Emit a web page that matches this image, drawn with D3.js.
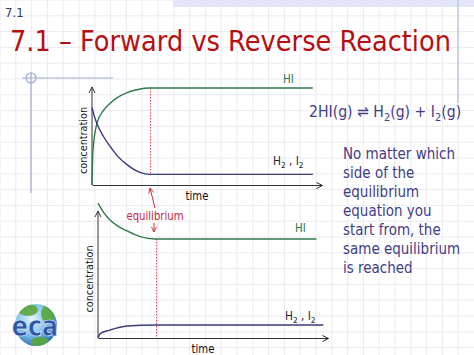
<!DOCTYPE html>
<html><head><meta charset="utf-8">
<script src="https://cdn.jsdelivr.net/npm/d3@7"></script>
<style>html,body{margin:0;padding:0;background:#fff;}svg{display:block;}</style>
</head><body>
<svg id="c" width="474" height="355"></svg>
<script>
// ---------- data ----------
const eqTime = 2.5;                       // time at which equilibrium is reached
// Forward reaction (start with H2, I2)
const topHITime = [0, 0.04, 0.22, 0.5, 0.78, 1.1, 1.5, 2.0, 2.5, 9.6];
const topHIConc = [0, 3.5, 6.4, 7.7, 8.4, 9.0, 9.5, 9.85, 10, 10];
const topH2Time = [0, 0.1, 0.22, 0.5, 0.78, 1.1, 1.52, 2.09, 2.5, 9.6];
const topH2Conc = [8.0, 7.1, 6.3, 5.0, 4.0, 3.0, 2.1, 1.3, 1.1, 1.1];
// Reverse reaction (start with HI)
const botHITime = [0, 0.25, 0.52, 0.85, 1.26, 1.83, 2.5, 9.5];
const botHIConc = [10.7, 9.95, 9.37, 8.9, 8.5, 8.05, 7.86, 7.86];
const botH2Time = [0, 0.1, 0.52, 1.26, 2.5, 9.8];
const botH2Conc = [0, 0.35, 0.63, 0.95, 1.03, 1.03];
const bodyLines = ["No matter which", "side of the", "equilibrium", "equation you",
                   "start from, the", "same equilibrium", "is reached"];

// ---------- styles ----------
const FONT = "DejaVu Sans";
const GREEN = "#2f7a4c", NAVY = "#3b3b7a", RED = "#c8283a", DOT = "#e8485c", TEXTBLUE = "#3f3c88";
const svg = d3.select("#c");
const defs = svg.append("defs");

// grid background
const grid = svg.append("g");
const step = 15.8;
d3.range(0, 474, step).forEach(x => grid.append("line").attr("x1", x).attr("x2", x).attr("y1", 0).attr("y2", 355)
  .attr("stroke", "#eaeaf1").attr("stroke-width", 1));
d3.range(0, 355, step).forEach(y => grid.append("line").attr("y1", y).attr("y2", y).attr("x1", 0).attr("x2", 474)
  .attr("stroke", "#eaeaf1").attr("stroke-width", 1));

// decorations
svg.append("rect").attr("x", 173).attr("y", 0).attr("width", 301).attr("height", 7).attr("fill", "#e3e6f8");
svg.append("line").attr("x1", 458).attr("x2", 458).attr("y1", 0).attr("y2", 103).attr("stroke", "#b4bbdc").attr("stroke-width", 1.2);
svg.append("line").attr("x1", 22).attr("x2", 113).attr("y1", 78).attr("y2", 78).attr("stroke", "#9fa9d0").attr("stroke-width", 1.2);
svg.append("line").attr("x1", 31).attr("x2", 31).attr("y1", 72).attr("y2", 193).attr("stroke", "#9fa9d0").attr("stroke-width", 1.2);
svg.append("circle").attr("cx", 31).attr("cy", 78).attr("r", 5).attr("fill", "none").attr("stroke", "#9fa9d0").attr("stroke-width", 1.2);

// text helper (horizontally condensed, Tahoma-like)
function txt(x, y, s, size, color, anchor = "start", sx = 0.88, rot = 0) {
  return svg.append("text")
    .attr("transform", `translate(${x},${y}) rotate(${rot}) scale(${sx},1)`)
    .attr("font-family", FONT).attr("font-size", size).attr("fill", color)
    .attr("text-anchor", anchor).text(s);
}
function subText(x, y, parts, size, color, sx = 0.88) {
  const t = svg.append("text")
    .attr("transform", `translate(${x},${y}) scale(${sx},1)`)
    .attr("font-family", FONT).attr("font-size", size).attr("fill", color);
  let shifted = false;
  parts.forEach(p => {
    const ts = t.append("tspan").text(p.t);
    if (p.sub) { ts.attr("dy", size * 0.28).attr("font-size", size * 0.7); shifted = true; }
    else if (shifted) { ts.attr("dy", -size * 0.28); shifted = false; }
  });
  return t;
}

// titles
txt(5, 17, "7.1", 13, "#2e3a62", "start", 0.9);
txt(10, 51, "7.1 \u2013 Forward vs Reverse Reaction", 29, "#b50f12", "start", 0.886);

// arrow markers
defs.append("marker").attr("id", "ax").attr("viewBox", "0 0 8 8").attr("refX", 7).attr("refY", 4)
  .attr("markerWidth", 8).attr("markerHeight", 8).attr("markerUnits", "userSpaceOnUse").attr("orient", "auto")
  .append("path").attr("d", "M1,1 L7,4 L1,7").attr("fill", "none").attr("stroke", "#333").attr("stroke-width", 1);
defs.append("marker").attr("id", "ra").attr("viewBox", "0 0 8 8").attr("refX", 7).attr("refY", 4)
  .attr("markerWidth", 7).attr("markerHeight", 7).attr("markerUnits", "userSpaceOnUse").attr("orient", "auto")
  .append("path").attr("d", "M1,1 L7,4 L1,7").attr("fill", "none").attr("stroke", RED).attr("stroke-width", 1);

// ---------- charts ----------
function chart(cfg) {
  const x = d3.scaleLinear().domain([0, 10]).range([cfg.x0, cfg.x1]);
  const y = d3.scaleLinear().domain([0, 10]).range([cfg.y0, cfg.yTop]);
  const line = d3.line().x(d => x(d[0])).y(d => y(d[1])).curve(d3.curveMonotoneX);
  // axes (no ticks) drawn with d3 axes
  const gx = svg.append("g").attr("transform", `translate(0,${cfg.y0})`)
    .call(d3.axisBottom(x).tickValues([]).tickSizeOuter(0));
  gx.select(".domain").attr("stroke", "#333").attr("marker-end", "url(#ax)");
  const gy = svg.append("g").attr("transform", `translate(${cfg.x0},0)`)
    .call(d3.axisLeft(y).tickValues([]).tickSizeOuter(0));
  gy.select(".domain").attr("stroke", "#333").attr("marker-end", "url(#ax)")
    .attr("d", `M0,${cfg.y0}V${cfg.yTop - 1}`);
  // equilibrium dotted line
  const ex = Math.round(x(eqTime)) + 0.5;
  svg.append("line").attr("x1", ex).attr("x2", ex)
    .attr("y1", y(cfg.eqTopVal)).attr("y2", y(cfg.eqBotVal))
    .attr("stroke", DOT).attr("stroke-width", 1).attr("stroke-dasharray", "1.5,1.5");
  // series
  svg.append("path").datum(d3.zip(cfg.hiT, cfg.hiC)).attr("d", line)
    .attr("fill", "none").attr("stroke", GREEN).attr("stroke-width", 1.4);
  svg.append("path").datum(d3.zip(cfg.h2T, cfg.h2C)).attr("d", line)
    .attr("fill", "none").attr("stroke", NAVY).attr("stroke-width", 1.4);
  // labels
  txt(cfg.hiLab[0], cfg.hiLab[1], "HI", 11.5, GREEN, "start", 0.9);
  subText(cfg.h2Lab[0], cfg.h2Lab[1], [{t: "H"}, {t: "2", sub: true}, {t: " , I"}, {t: "2", sub: true}], 11.5, "#1f1f3a", 0.92);
  txt((cfg.x0 + cfg.x1) / 2 - 10, cfg.y0 + 15, "time", 11.5, "#111", "middle");
  txt(cfg.x0 - 5, (cfg.y0 + cfg.yTop) / 2 + 4, "concentration", 11, "#111", "middle", 0.88, -90);
  return {x, y};
}

chart({x0: 92, x1: 322, y0: 185, yTop: 88, hiT: topHITime, hiC: topHIConc, h2T: topH2Time, h2C: topH2Conc,
  eqTopVal: 10, eqBotVal: 1.1, hiLab: [283, 83], h2Lab: [273, 165]});
chart({x0: 98, x1: 328, y0: 338, yTop: 212, hiT: botHITime, hiC: botHIConc, h2T: botH2Time, h2C: botH2Conc,
  eqTopVal: 7.86, eqBotVal: 0, hiLab: [295, 232], h2Lab: [285, 320]});

// equilibrium annotation
svg.append("line").attr("x1", 155).attr("y1", 208).attr("x2", 150).attr("y2", 188)
  .attr("stroke", RED).attr("stroke-width", 1).attr("marker-end", "url(#ra)");
txt(155, 220, "equilibrium", 11.5, RED, "middle");
svg.append("line").attr("x1", 154).attr("y1", 223).attr("x2", 154).attr("y2", 232)
  .attr("stroke", RED).attr("stroke-width", 1).attr("marker-end", "url(#ra)");

// equation and body text
subText(309, 117, [{t: "2HI(g) \u21cc H"}, {t: "2", sub: true}, {t: "(g) + I"}, {t: "2", sub: true}, {t: "(g)"}], 16, TEXTBLUE, 0.88);
bodyLines.forEach((s, i) => txt(343, 159 + i * 19, s, 15.5, TEXTBLUE, "start", 0.87));

// logo
const lg = defs.append("radialGradient").attr("id", "globe").attr("cx", "40%").attr("cy", "35%").attr("r", "65%");
lg.append("stop").attr("offset", "0%").attr("stop-color", "#e8f6ff");
lg.append("stop").attr("offset", "60%").attr("stop-color", "#7cc0ea");
lg.append("stop").attr("offset", "100%").attr("stop-color", "#2f74b8");
defs.append("clipPath").attr("id", "gc").append("circle").attr("cx", 36).attr("cy", 325).attr("r", 21);
svg.append("circle").attr("cx", 36).attr("cy", 325).attr("r", 21).attr("fill", "url(#globe)");
const land = svg.append("g").attr("clip-path", "url(#gc)").attr("fill", "#5aa83a").attr("opacity", 0.9);
land.append("ellipse").attr("cx", 28).attr("cy", 310).attr("rx", 10).attr("ry", 6);
land.append("ellipse").attr("cx", 48).attr("cy", 314).attr("rx", 7).attr("ry", 9);
land.append("ellipse").attr("cx", 40).attr("cy", 342).attr("rx", 9).attr("ry", 5);
svg.append("text").attr("transform", "translate(35,336) scale(0.85,1)").attr("text-anchor", "middle")
  .attr("font-family", FONT).attr("font-weight", "bold").attr("font-size", 28)
  .attr("fill", "#2c55a8").attr("stroke", "#e8f0ff").attr("stroke-width", 0.6).text("eca");
</script>
</body></html>
